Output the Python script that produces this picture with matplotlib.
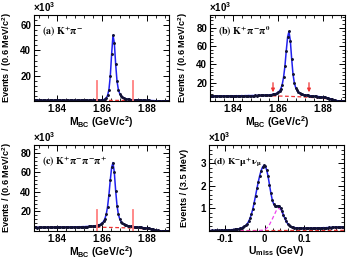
import numpy as np
import matplotlib
matplotlib.use("Agg")
from matplotlib import pyplot as plt
from matplotlib.ticker import MultipleLocator

plt.rcParams['font.family'] = ['Liberation Sans', 'DejaVu Sans']
plt.rcParams['font.weight'] = 'bold'
plt.rcParams['mathtext.fontset'] = 'custom'
plt.rcParams['mathtext.rm'] = 'Liberation Sans:bold'
plt.rcParams['mathtext.it'] = 'Liberation Sans:bold'
plt.rcParams['mathtext.bf'] = 'Liberation Sans:bold'

# M_BC binning: 0.6 MeV bins from 1.83 to 1.89 GeV (values in units of 10^3)
mbc_lo, mbc_bin, mbc_n = 1.83, 0.0006, 100

kpi = [0.45, 0.42, 0.47, 0.44, 0.46, 0.43, 0.45, 0.48, 0.44, 0.46,
       0.45, 0.47, 0.43, 0.46, 0.48, 0.45, 0.44, 0.47, 0.46, 0.45,
       0.48, 0.46, 0.47, 0.45, 0.49, 0.47, 0.46, 0.48, 0.50, 0.47,
       0.49, 0.48, 0.50, 0.47, 0.51, 0.49, 0.50, 0.52, 0.49, 0.51,
       0.52, 0.50, 0.53, 0.52, 0.55, 0.54, 0.57, 0.60, 0.65, 0.72,
       0.85, 1.05, 1.5, 2.4, 4.4, 9.0, 19.5, 37.0, 52.0, 46.0,
       29.0, 15.5, 9.0, 5.8, 4.1, 3.1, 2.4, 1.95, 1.65, 1.4,
       1.25, 1.12, 1.0, 0.92, 0.85, 0.78, 0.72, 0.68, 0.64, 0.60,
       0.57, 0.54, 0.51, 0.48, 0.45, 0.42, 0.38, 0.34, 0.30, 0.26,
       0.21, 0.16, 0.12, 0.08, 0.05, 0.03, 0.02, 0.01, 0.0, 0.0]

kpipi0 = [5.3, 5.5, 5.4, 5.6, 5.5, 5.4, 5.6, 5.5, 5.7, 5.5,
          5.6, 5.5, 5.7, 5.6, 5.5, 5.8, 5.6, 5.7, 5.6, 5.8,
          5.7, 5.8, 5.6, 5.9, 5.7, 5.8, 5.9, 5.8, 6.0, 5.9,
          5.9, 6.0, 5.9, 6.1, 6.0, 6.1, 6.2, 6.1, 6.3, 6.2,
          6.4, 6.4, 6.5, 6.6, 6.8, 7.0, 7.2, 7.5, 8.0, 8.6,
          9.5, 11.0, 13.5, 18.0, 26.0, 38.0, 55.0, 70.0, 76.0, 66.0,
          46.0, 29.0, 19.5, 14.5, 11.5, 9.8, 8.7, 7.9, 7.3, 6.9,
          6.6, 6.3, 6.1, 5.9, 5.7, 5.5, 5.4, 5.2, 5.1, 4.9,
          4.8, 4.6, 4.5, 4.3, 4.1, 3.9, 3.6, 3.2, 2.7, 2.2,
          1.7, 1.2, 0.8, 0.5, 0.3, 0.15, 0.05, 0.0, 0.0, 0.0]

k3pi = [3.6, 3.7, 3.5, 3.8, 3.6, 3.7, 3.8, 3.6, 3.9, 3.7,
        3.8, 3.7, 3.9, 3.8, 3.7, 4.0, 3.8, 3.9, 3.8, 4.0,
        3.9, 4.0, 3.9, 4.1, 4.0, 4.1, 4.0, 4.2, 4.1, 4.2,
        4.2, 4.3, 4.2, 4.4, 4.3, 4.4, 4.5, 4.4, 4.6, 4.6,
        4.7, 4.8, 4.9, 5.0, 5.2, 5.4, 5.6, 5.9, 6.4, 7.1,
        8.2, 9.8, 12.5, 17.0, 25.0, 37.0, 52.0, 65.0, 70.0, 60.0,
        41.0, 26.0, 17.0, 12.3, 9.6, 8.0, 7.0, 6.3, 5.8, 5.4,
        5.1, 4.9, 4.7, 4.5, 4.3, 4.2, 4.0, 3.9, 3.8, 3.6,
        3.5, 3.3, 3.2, 3.0, 2.8, 2.6, 2.3, 2.0, 1.6, 1.3,
        0.9, 0.6, 0.4, 0.25, 0.12, 0.05, 0.02, 0.0, 0.0, 0.0]

# ARGUS-like background curves
bkg_x = [1.830, 1.835, 1.840, 1.845, 1.850, 1.855, 1.860, 1.865, 1.870,
         1.875, 1.878, 1.881, 1.883, 1.885, 1.886, 1.8865, 1.89]
bkg_kpi = [0.45, 0.46, 0.47, 0.48, 0.49, 0.50, 0.50, 0.49, 0.47,
           0.43, 0.39, 0.33, 0.27, 0.18, 0.10, 0.0, 0.0]
bkg_kpipi0 = [5.4, 5.5, 5.6, 5.8, 5.8, 5.7, 5.5, 5.1, 4.6,
              3.9, 3.4, 2.7, 2.1, 1.3, 0.6, 0.0, 0.0]
bkg_k3pi = [3.6, 3.7, 3.8, 3.9, 4.0, 3.9, 3.8, 3.6, 3.3,
            2.8, 2.4, 1.9, 1.5, 0.9, 0.45, 0.0, 0.0]

cuts = [1.858, 1.874]

# U_miss binning: 3.5 MeV bins from -0.14 GeV
um_lo, um_bin = -0.14, 0.0035
kmunu = [0.02, 0.02, 0.03, 0.02, 0.03, 0.03, 0.02, 0.03, 0.03, 0.04,
         0.03, 0.04, 0.04, 0.05, 0.04, 0.05, 0.06, 0.06, 0.07, 0.08,
         0.09, 0.10, 0.12, 0.14, 0.17, 0.21, 0.25, 0.32, 0.42, 0.56,
         0.74, 0.97, 1.25, 1.56, 1.88, 2.18, 2.45, 2.67, 2.82, 2.90,
         2.86, 2.70, 2.42, 2.05, 1.68, 1.38, 1.20, 1.12, 1.10, 1.12,
         1.10, 1.02, 0.88, 0.72, 0.56, 0.43, 0.33, 0.26, 0.21, 0.18,
         0.16, 0.15, 0.14, 0.14, 0.13, 0.13, 0.13, 0.12, 0.13, 0.12,
         0.13, 0.12, 0.13, 0.13, 0.12, 0.13, 0.14, 0.13, 0.14, 0.13,
         0.14, 0.14, 0.15, 0.14, 0.15, 0.15, 0.16, 0.15, 0.16, 0.16,
         0.17, 0.16, 0.17, 0.18, 0.17, 0.18, 0.18]
peak_x = [-0.14, -0.02, 0.0, 0.01, 0.02, 0.03, 0.035, 0.04, 0.05, 0.06,
          0.07, 0.08, 0.10, 0.15, 0.2]
peak_y = [0.0, 0.0, 0.05, 0.2, 0.55, 0.92, 1.0, 0.95, 0.6, 0.28,
          0.15, 0.12, 0.11, 0.13, 0.16]
flat_x = [-0.14, 0.0, 0.1, 0.2]
flat_y = [0.02, 0.02, 0.025, 0.03]

fig = plt.figure(figsize=(3.52, 2.6), dpi=100)
W, H = 352.0, 260.0
boxes = [(34, 101), (210, 101), (34, 231), (209, 231)]
axes = [fig.add_axes([l / W, 1 - b / H, 135 / W, 86 / H]) for l, b in boxes]

mbc_x = mbc_lo + mbc_bin * (np.arange(mbc_n) + 0.5)
um_x = um_lo + um_bin * (np.arange(len(kmunu)) + 0.5)

panels = [
    (axes[0], kpi, bkg_kpi, 68, [20, 40, 60], r"$\mathbf{(a)\ K^{+}\pi^{-}}$", 16),
    (axes[1], kpipi0, bkg_kpipi0, 94, [20, 40, 60, 80], r"$\mathbf{(b)\ K^{+}\pi^{-}\pi^{0}}$", 23),
    (axes[2], k3pi, bkg_k3pi, 88, [20, 40, 60, 80], r"$\mathbf{(c)\ K^{+}\pi^{-}\pi^{-}\pi^{+}}$", 22),
]

blue = '#2020ee'
for i, (ax, vals, bkg, ytop, yt, lab, cuth) in enumerate(panels):
    ax.plot(bkg_x, bkg, color='#ee3333', ls=(0, (3, 2)), lw=0.9)
    ax.plot(mbc_x, vals, color=blue, lw=1.1)
    ax.plot(mbc_x, vals, 'o', color='#111133', ms=1.1)
    for c in cuts:
        if i == 1:
            ax.annotate('', xy=(c, 6.5), xytext=(c, cuth),
                        arrowprops=dict(arrowstyle='-|>', color='#ee3333', lw=0.9,
                                        mutation_scale=5))
        else:
            ax.plot([c, c], [0, cuth], color='#ff8080', lw=1.3)
    ax.set_xlim(1.83, 1.89)
    ax.set_ylim(0, ytop)
    ax.set_xticks([1.84, 1.86, 1.88])
    ax.set_xticklabels(['1.84', '1.86', '1.88'])
    ax.xaxis.set_minor_locator(MultipleLocator(0.004))
    ax.set_yticks(yt)
    ax.yaxis.set_minor_locator(MultipleLocator(4))
    ax.set_xlabel(r"M$_{\mathregular{BC}}$ (GeV/c$^{\mathregular{2}}$)", fontsize=7.5, fontweight='bold')
    ax.set_ylabel(r"Events / (0.6 MeV/c$^{\mathregular{2}}$)", fontsize=6.6, fontweight='bold')
    ax.text(0.06, 0.80, lab, transform=ax.transAxes, fontsize=7.2,
            math_fontfamily='stix', va='center')

ax = axes[3]
ax.plot(flat_x, flat_y, color='#ee3333', ls=(0, (3, 2)), lw=0.9)
ax.plot(peak_x, peak_y, color='#ee44ee', ls=(0, (3, 2)), lw=0.9)
ax.plot(um_x, kmunu, color=blue, lw=1.1)
ax.plot(um_x, kmunu, 'o', color='#111133', ms=1.1)
ax.set_xlim(-0.14, 0.2)
ax.set_ylim(0, 3.8)
ax.set_xticks([-0.1, 0, 0.1])
ax.set_xticklabels(['-0.1', '0', '0.1'])
ax.xaxis.set_minor_locator(MultipleLocator(0.02))
ax.set_yticks([1, 2, 3])
ax.yaxis.set_minor_locator(MultipleLocator(0.2))
ax.set_xlabel(r"U$_{\mathregular{miss}}$ (GeV)", fontsize=7.5, fontweight='bold')
ax.set_ylabel("Events / (3.5 MeV)", fontsize=6.6, fontweight='bold')
ax.text(0.03, 0.80, r"$\mathbf{(d)\ K^{-}\mu^{+}\nu_{\mu}}$", transform=ax.transAxes,
        fontsize=6.8, math_fontfamily='stix', va='center')

for ax in axes:
    ax.tick_params(which='both', direction='in', top=True, right=True, labelsize=7, pad=2)
    ax.tick_params(which='major', length=4, width=0.7)
    ax.tick_params(which='minor', length=2, width=0.6)
    for s in ax.spines.values():
        s.set_linewidth(0.8)
    for t in ax.get_xticklabels() + ax.get_yticklabels():
        t.set_fontweight('bold')
    ax.yaxis.set_label_coords(-0.145, 0.5)
    ax.xaxis.set_label_coords(0.5, -0.15)
    ax.text(-0.01, 1.01, r"$\times$10$^{\mathregular{3}}$", transform=ax.transAxes,
            fontsize=7, va='bottom', ha='left')

fig.savefig("out.png", dpi=100)
